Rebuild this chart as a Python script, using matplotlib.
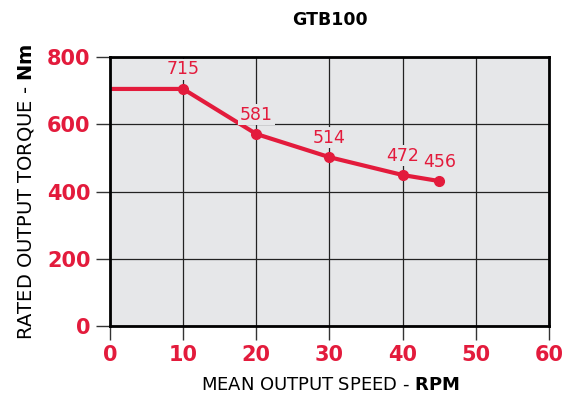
import matplotlib.pyplot as plt

plt.rcParams['mathtext.fontset'] = 'dejavusans'

speed = [0, 10, 20, 30, 40, 45]
torque = [705, 705, 571, 502, 449, 431]
label_speed = [10, 20, 30, 40, 45]
label_torque = [705, 571, 502, 449, 431]
labels = ["715", "581", "514", "472", "456"]
xticks = [0, 10, 20, 30, 40, 50, 60]
yticks = [0, 200, 400, 600, 800]

red = '#e31b3c'
bg = '#e6e7e9'

fig = plt.figure(figsize=(5.71, 4.0), dpi=100)
ax = fig.add_axes([0.1926, 0.185, 0.7689, 0.6725])
ax.set_facecolor(bg)

ax.plot(speed, torque, color=red, lw=3, zorder=3)
ax.plot(speed[1:], torque[1:], 'o', color=red, ms=7, zorder=4)

for x, y, t in zip(label_speed, label_torque, labels):
    ax.annotate(t, (x, y), xytext=(0, 14), textcoords='offset points',
                ha='center', va='center', color=red, fontsize=12.5,
                bbox=dict(boxstyle='square,pad=0.1', fc=bg, ec='none'),
                zorder=5)

ax.set_xlim(0, 60)
ax.set_ylim(0, 800)
ax.set_xticks(xticks)
ax.set_yticks(yticks)
ax.grid(True, color='#222222', lw=0.9)
ax.set_axisbelow(True)
for s in ax.spines.values():
    s.set_linewidth(2)
    s.set_color('black')
    s.set_zorder(6)

ax.tick_params(length=10, width=1, color='#333333', pad=4,
               labelcolor=red, labelsize=15)
for lab in ax.get_xticklabels() + ax.get_yticklabels():
    lab.set_fontweight('bold')

fig.text(0.578, 0.95, 'GTB100', ha='center', va='center',
         fontsize=12.5, fontweight='bold')
fig.text(0.578, 0.038, r'MEAN OUTPUT SPEED - $\mathbf{RPM}$',
         ha='center', va='center', fontsize=13)
fig.text(0.045, 0.52, r'RATED OUTPUT TORQUE - $\mathbf{Nm}$',
         ha='center', va='center', rotation=90, fontsize=14)

fig.savefig('out.png', dpi=100)
